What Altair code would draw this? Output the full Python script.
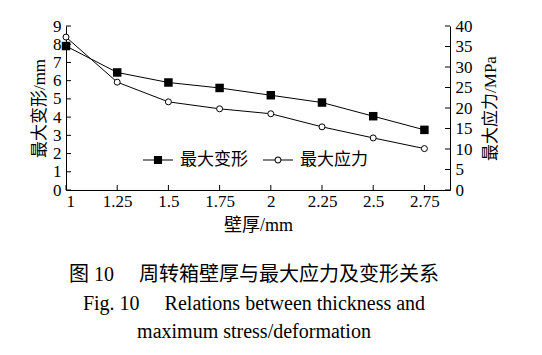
import altair as alt
import pandas as pd

# ---- data ----
thickness = [1, 1.25, 1.5, 1.75, 2, 2.25, 2.5, 2.75]
deformation = [7.9, 6.45, 5.9, 5.6, 5.2, 4.8, 4.05, 3.3]
stress = [37.3, 26.3, 21.5, 19.8, 18.6, 15.4, 12.7, 10.1]
x_ticks = [1, 1.25, 1.5, 1.75, 2, 2.25, 2.5, 2.75]
left_ticks = [0, 1, 2, 3, 4, 5, 6, 7, 8, 9]
right_ticks = [0, 5, 10, 15, 20, 25, 30, 35, 40]
series = ["最大变形", "最大应力"]
x_title = "壁厚/mm"
left_title = "最大变形/mm"
right_title = "最大应力/MPa"
caption_cn = "图 10\u2003 周转箱壁厚与最大应力及变形关系"
caption_en1 = "Fig. 10\u2003 Relations between thickness and"
caption_en2 = "maximum stress/deformation"

W, H = 384, 164
SERIF = "Liberation Serif, Noto Sans CJK SC"
CJK = "Noto Sans CJK SC, Liberation Serif"

df = pd.DataFrame({"t": thickness, "d": deformation, "s": stress})
xscale = alt.Scale(domain=[1, 2.875], nice=False, zero=False)
lscale = alt.Scale(domain=[0, 9], nice=False)
rscale = alt.Scale(domain=[0, 40], nice=False)

x_axis = alt.Axis(values=x_ticks, format=".3~g", ticks=False, grid=False, title=x_title,
                  labelPadding=3, titlePadding=7, domainColor="black", titleFontSize=18)
left_axis = alt.Axis(orient="left", values=left_ticks, ticks=False, grid=False,
                     title=left_title, labelPadding=5, titlePadding=4,
                     domainColor="black")
right_axis = alt.Axis(orient="right", values=right_ticks, ticks=False, grid=False,
                      title=right_title, labelPadding=5, titlePadding=10,
                      titleAngle=270, titleBaseline="top", domainColor="black")

def X(field="t"):
    return alt.X(f"{field}:Q", scale=xscale, axis=x_axis)

base = alt.Chart(df)
line_d = base.mark_line(color="black", strokeWidth=1).encode(
    x=X(), y=alt.Y("d:Q", scale=lscale, axis=left_axis))
pts_d = base.mark_point(shape="square", filled=True, color="black", size=72, opacity=1).encode(
    x=X(), y=alt.Y("d:Q", scale=lscale, axis=left_axis))
lt = alt.Chart(pd.DataFrame({"d": left_ticks})).mark_rule(color="black", strokeWidth=1).encode(
    y=alt.Y("d:Q", scale=lscale, axis=left_axis), x=alt.value(0), x2=alt.value(5))
left = alt.layer(line_d, pts_d, lt)

line_s = base.mark_line(color="black", strokeWidth=1).encode(
    x=X(), y=alt.Y("s:Q", scale=rscale, axis=right_axis))
pts_s = base.mark_point(shape="circle", filled=False, fill="white", stroke="black",
                        strokeWidth=1, size=36, opacity=1).encode(
    x=X(), y=alt.Y("s:Q", scale=rscale, axis=right_axis))
rt = alt.Chart(pd.DataFrame({"s": right_ticks})).mark_rule(color="black", strokeWidth=1).encode(
    y=alt.Y("s:Q", scale=rscale, axis=right_axis), x=alt.value(W), x2=alt.value(W - 5))
right = alt.layer(line_s, pts_s, rt)

xt = alt.Chart(pd.DataFrame({"t": x_ticks})).mark_rule(color="black", strokeWidth=1).encode(
    x=X(), y=alt.value(H), y2=alt.value(H - 5))

# legend glyphs drawn entirely as filled paths (line = thin filled bar)
sq_path = ("M-1,-0.034H1V0.034H-1Z"
           "M-0.27,-0.27H0.27V0.27H-0.27Z")
ci_path = ("M-1,-0.034H-0.2V0.034H-1Z"
           "M0.2,-0.034H1V0.034H0.2Z"
           "M0.23,0A0.23,0.23 0 1,1 -0.23,0A0.23,0.23 0 1,1 0.23,0Z"
           "M0.16,0A0.16,0.16 0 1,0 -0.16,0A0.16,0.16 0 1,0 0.16,0Z")
legend_layer = alt.Chart(pd.DataFrame({"series": series})).mark_point(
    filled=True, color="black", opacity=0).encode(
    shape=alt.Shape("series:N", scale=alt.Scale(domain=series, range=[sq_path, ci_path]),
                    legend=alt.Legend(
                        orient="none", legendX=77, legendY=119, direction="horizontal",
                        title=None, symbolSize=900, symbolStrokeWidth=0,
                        symbolFillColor="black", symbolStrokeColor="black",
                        symbolOpacity=1, labelFont=CJK, labelFontSize=17,
                        labelColor="black", labelOffset=7, columnPadding=15)))

def cap(text, y, size):
    return alt.Chart(pd.DataFrame({"c": [text]})).mark_text(
        font=SERIF, fontSize=size, color="black", align="center", baseline="alphabetic").encode(
        text="c:N", x=alt.value(188), y=alt.value(y))

chart = alt.layer(left, right, xt, legend_layer,
                  cap(caption_cn, 255, 20), cap(caption_en1, 284, 20), cap(caption_en2, 312, 20)
                  ).resolve_scale(y="independent").properties(
    width=W, height=H,
    autosize=alt.AutoSizeParams(type="none"),
    padding={"left": 58, "top": 18, "right": 84, "bottom": 157},
    background="white",
).configure_view(stroke=None).configure_axis(
    labelFont="Liberation Serif", labelFontSize=17, labelColor="black",
    titleFont=SERIF, titleFontSize=17, titleFontWeight="normal", titleColor="black",
    domainWidth=1, labelOverlap=False,
)

chart.save("out.html", embed_options={"renderer": "svg", "actions": False})
